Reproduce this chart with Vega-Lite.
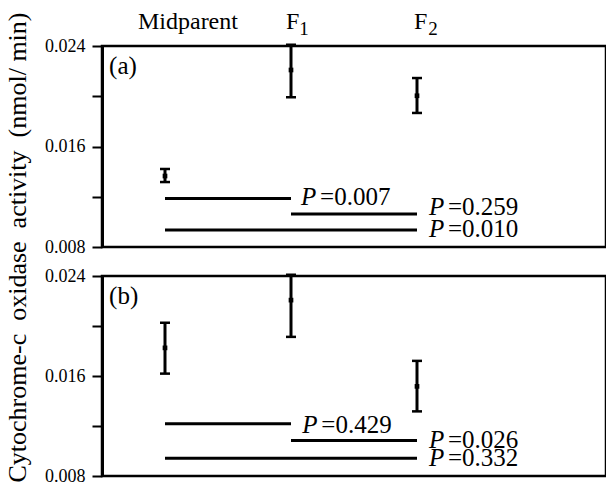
{
  "$schema": "https://vega.github.io/schema/vega-lite/v6.json",
  "padding": {"left": 5, "top": 8, "right": 0, "bottom": 0},
  "background": "white",
  "title": {"text": "Cytochrome-c\u2002oxidase\u2002activity\u2002(nmol/ min)", "orient": "left", "anchor": "middle", "font": "Liberation Serif", "fontSize": 26, "fontWeight": "normal", "color": "black", "offset": 12},
  "config": {
    "view": {"stroke": "black", "strokeWidth": 2.5},
    "font": "Liberation Serif",
    "text": {"font": "Liberation Serif"}
  },
  "datasets": {
    "bars": [
      {"panel": "a", "x": 0.5, "mean": 0.01365, "lo": 0.01317, "hi": 0.01421},
      {"panel": "a", "x": 1.5, "mean": 0.02209, "lo": 0.01992, "hi": 0.0241},
      {"panel": "a", "x": 2.5, "mean": 0.02004, "lo": 0.01867, "hi": 0.02145},
      {"panel": "b", "x": 0.5, "mean": 0.01825, "lo": 0.01619, "hi": 0.02026},
      {"panel": "b", "x": 1.5, "mean": 0.02207, "lo": 0.01913, "hi": 0.0241},
      {"panel": "b", "x": 2.5, "mean": 0.01517, "lo": 0.01317, "hi": 0.01721}
    ],
    "lines": [
      {"panel": "a", "x": 0.5, "x2": 1.5, "y": 0.01187},
      {"panel": "a", "x": 1.5, "x2": 2.5, "y": 0.01062},
      {"panel": "a", "x": 0.5, "x2": 2.5, "y": 0.00935},
      {"panel": "b", "x": 0.5, "x2": 1.5, "y": 0.01218},
      {"panel": "b", "x": 1.5, "x2": 2.5, "y": 0.01084},
      {"panel": "b", "x": 0.5, "x2": 2.5, "y": 0.00942}
    ],
    "labels": [
      {"panel": "a", "x": 1.58, "y": 0.01134, "val": "=0.007"},
      {"panel": "a", "x": 2.595, "y": 0.01054, "val": "=0.259"},
      {"panel": "a", "x": 2.595, "y": 0.00879, "val": "=0.010"},
      {"panel": "b", "x": 1.59, "y": 0.01146, "val": "=0.429"},
      {"panel": "b", "x": 2.595, "y": 0.01025, "val": "=0.026"},
      {"panel": "b", "x": 2.595, "y": 0.00881, "val": "=0.332"}
    ],
    "headers": [
      {"x": 1.079, "y": 0.02535, "t": "Midparent", "al": "right"},
      {"x": 1.46, "y": 0.02535, "t": "F", "al": "left"},
      {"x": 2.476, "y": 0.02535, "t": "F", "al": "left"}
    ],
    "subs": [
      {"x": 1.565, "y": 0.02488, "t": "1"},
      {"x": 2.59, "y": 0.02488, "t": "2"}
    ],
    "tags": [
      {"panel": "a", "x": 0.056, "y": 0.0218, "t": "(a)"},
      {"panel": "b", "x": 0.056, "y": 0.0218, "t": "(b)"}
    ]
  },
  "spacing": 29,
  "bounds": "flush",
  "vconcat": [
    {
      "width": 504, "height": 201,
      "layer": [
        {"data": {"name": "headers"}, "transform": [{"filter": "datum.al == 'left'"}], "mark": {"type": "text", "align": "left", "baseline": "alphabetic", "fontSize": 24, "font": "Liberation Serif", "color": "black"},
         "encoding": {"x": {"field": "x", "type": "quantitative", "scale": {"domain": [0, 4]}, "axis": null},
                      "y": {"field": "y", "type": "quantitative", "scale": {"domain": [0.008, 0.024], "zero": false, "nice": false}, "title": null, "axis": {"values": [0.008, 0.012, 0.016, 0.02, 0.024], "labelExpr": "abs(datum.value-0.012)<1e-6 || abs(datum.value-0.02)<1e-6 ? '' : format(datum.value, '.3f')", "grid": false, "tickSize": 10, "tickWidth": 2, "tickColor": "black", "domainColor": "black", "domainWidth": 3, "labelFont": "Liberation Serif", "labelFontSize": 18, "labelColor": "black", "labelPadding": 7}},
                      "text": {"field": "t"}}},
        {"data": {"name": "headers"}, "transform": [{"filter": "datum.al == 'right'"}], "mark": {"type": "text", "align": "right", "baseline": "alphabetic", "fontSize": 24, "font": "Liberation Serif", "color": "black"},
         "encoding": {"x": {"field": "x", "type": "quantitative", "scale": {"domain": [0, 4]}, "axis": null},
                      "y": {"field": "y", "type": "quantitative", "scale": {"domain": [0.008, 0.024], "zero": false, "nice": false}, "title": null},
                      "text": {"field": "t"}}},
        {"data": {"name": "subs"}, "mark": {"type": "text", "align": "left", "baseline": "alphabetic", "fontSize": 19, "font": "Liberation Serif", "color": "black"},
         "encoding": {"x": {"field": "x", "type": "quantitative", "scale": {"domain": [0, 4]}, "axis": null},
                      "y": {"field": "y", "type": "quantitative", "scale": {"domain": [0.008, 0.024], "zero": false, "nice": false}, "title": null},
                      "text": {"field": "t"}}},
        {"data": {"name": "tags"}, "transform": [{"filter": "datum.panel == 'a'"}], "mark": {"type": "text", "align": "left", "baseline": "alphabetic", "fontSize": 25, "font": "Liberation Serif", "color": "black"},
         "encoding": {"x": {"field": "x", "type": "quantitative", "scale": {"domain": [0, 4]}, "axis": null},
                      "y": {"field": "y", "type": "quantitative", "scale": {"domain": [0.008, 0.024], "zero": false, "nice": false}, "title": null},
                      "text": {"field": "t"}}},
        {"data": {"name": "bars"}, "transform": [{"filter": "datum.panel == 'a'"}], "mark": {"type": "rule", "strokeWidth": 3, "color": "black"},
         "encoding": {"x": {"field": "x", "type": "quantitative", "scale": {"domain": [0, 4]}, "axis": null},
                      "y": {"field": "lo", "type": "quantitative", "scale": {"domain": [0.008, 0.024], "zero": false, "nice": false}, "title": null},
                      "y2": {"field": "hi"}}},
        {"data": {"name": "bars"}, "transform": [{"filter": "datum.panel == 'a'"}], "mark": {"type": "tick", "orient": "horizontal", "size": 10, "thickness": 2.5, "color": "black", "opacity": 1},
         "encoding": {"x": {"field": "x", "type": "quantitative", "scale": {"domain": [0, 4]}, "axis": null},
                      "y": {"field": "lo", "type": "quantitative", "scale": {"domain": [0.008, 0.024], "zero": false, "nice": false}, "title": null}}},
        {"data": {"name": "bars"}, "transform": [{"filter": "datum.panel == 'a'"}], "mark": {"type": "tick", "orient": "horizontal", "size": 10, "thickness": 2.5, "color": "black", "opacity": 1},
         "encoding": {"x": {"field": "x", "type": "quantitative", "scale": {"domain": [0, 4]}, "axis": null},
                      "y": {"field": "hi", "type": "quantitative", "scale": {"domain": [0.008, 0.024], "zero": false, "nice": false}, "title": null}}},
        {"data": {"name": "bars"}, "transform": [{"filter": "datum.panel == 'a'"}], "mark": {"type": "point", "shape": "square", "filled": true, "size": 22, "color": "black", "opacity": 1},
         "encoding": {"x": {"field": "x", "type": "quantitative", "scale": {"domain": [0, 4]}, "axis": null},
                      "y": {"field": "mean", "type": "quantitative", "scale": {"domain": [0.008, 0.024], "zero": false, "nice": false}, "title": null}}},
        {"data": {"name": "lines"}, "transform": [{"filter": "datum.panel == 'a'"}], "mark": {"type": "rule", "strokeWidth": 3, "color": "black"},
         "encoding": {"x": {"field": "x", "type": "quantitative", "scale": {"domain": [0, 4]}, "axis": null},
                      "x2": {"field": "x2"},
                      "y": {"field": "y", "type": "quantitative", "scale": {"domain": [0.008, 0.024], "zero": false, "nice": false}, "title": null}}},
        {"data": {"name": "labels"}, "transform": [{"filter": "datum.panel == 'a'"}], "mark": {"type": "text", "align": "left", "baseline": "alphabetic", "fontSize": 25, "fontStyle": "italic", "font": "Liberation Serif", "color": "black"},
         "encoding": {"x": {"field": "x", "type": "quantitative", "scale": {"domain": [0, 4]}, "axis": null},
                      "y": {"field": "y", "type": "quantitative", "scale": {"domain": [0.008, 0.024], "zero": false, "nice": false}, "title": null},
                      "text": {"value": "P"}}},
        {"data": {"name": "labels"}, "transform": [{"filter": "datum.panel == 'a'"}], "mark": {"type": "text", "align": "left", "baseline": "alphabetic", "fontSize": 25, "dx": 19, "font": "Liberation Serif", "color": "black"},
         "encoding": {"x": {"field": "x", "type": "quantitative", "scale": {"domain": [0, 4]}, "axis": null},
                      "y": {"field": "y", "type": "quantitative", "scale": {"domain": [0.008, 0.024], "zero": false, "nice": false}, "title": null},
                      "text": {"field": "val"}}}
      ]
    },
    {
      "width": 504, "height": 200,
      "layer": [
        {"data": {"name": "tags"}, "transform": [{"filter": "datum.panel == 'b'"}], "mark": {"type": "text", "align": "left", "baseline": "alphabetic", "fontSize": 25, "font": "Liberation Serif", "color": "black"},
         "encoding": {"x": {"field": "x", "type": "quantitative", "scale": {"domain": [0, 4]}, "axis": null},
                      "y": {"field": "y", "type": "quantitative", "scale": {"domain": [0.008, 0.024], "zero": false, "nice": false}, "title": null, "axis": {"values": [0.008, 0.012, 0.016, 0.02, 0.024], "labelExpr": "abs(datum.value-0.012)<1e-6 || abs(datum.value-0.02)<1e-6 ? '' : format(datum.value, '.3f')", "grid": false, "tickSize": 10, "tickWidth": 2, "tickColor": "black", "domainColor": "black", "domainWidth": 3, "labelFont": "Liberation Serif", "labelFontSize": 18, "labelColor": "black", "labelPadding": 7}},
                      "text": {"field": "t"}}},
        {"data": {"name": "bars"}, "transform": [{"filter": "datum.panel == 'b'"}], "mark": {"type": "rule", "strokeWidth": 3, "color": "black"},
         "encoding": {"x": {"field": "x", "type": "quantitative", "scale": {"domain": [0, 4]}, "axis": null},
                      "y": {"field": "lo", "type": "quantitative", "scale": {"domain": [0.008, 0.024], "zero": false, "nice": false}, "title": null},
                      "y2": {"field": "hi"}}},
        {"data": {"name": "bars"}, "transform": [{"filter": "datum.panel == 'b'"}], "mark": {"type": "tick", "orient": "horizontal", "size": 10, "thickness": 2.5, "color": "black", "opacity": 1},
         "encoding": {"x": {"field": "x", "type": "quantitative", "scale": {"domain": [0, 4]}, "axis": null},
                      "y": {"field": "lo", "type": "quantitative", "scale": {"domain": [0.008, 0.024], "zero": false, "nice": false}, "title": null}}},
        {"data": {"name": "bars"}, "transform": [{"filter": "datum.panel == 'b'"}], "mark": {"type": "tick", "orient": "horizontal", "size": 10, "thickness": 2.5, "color": "black", "opacity": 1},
         "encoding": {"x": {"field": "x", "type": "quantitative", "scale": {"domain": [0, 4]}, "axis": null},
                      "y": {"field": "hi", "type": "quantitative", "scale": {"domain": [0.008, 0.024], "zero": false, "nice": false}, "title": null}}},
        {"data": {"name": "bars"}, "transform": [{"filter": "datum.panel == 'b'"}], "mark": {"type": "point", "shape": "square", "filled": true, "size": 22, "color": "black", "opacity": 1},
         "encoding": {"x": {"field": "x", "type": "quantitative", "scale": {"domain": [0, 4]}, "axis": null},
                      "y": {"field": "mean", "type": "quantitative", "scale": {"domain": [0.008, 0.024], "zero": false, "nice": false}, "title": null}}},
        {"data": {"name": "lines"}, "transform": [{"filter": "datum.panel == 'b'"}], "mark": {"type": "rule", "strokeWidth": 3, "color": "black"},
         "encoding": {"x": {"field": "x", "type": "quantitative", "scale": {"domain": [0, 4]}, "axis": null},
                      "x2": {"field": "x2"},
                      "y": {"field": "y", "type": "quantitative", "scale": {"domain": [0.008, 0.024], "zero": false, "nice": false}, "title": null}}},
        {"data": {"name": "labels"}, "transform": [{"filter": "datum.panel == 'b'"}], "mark": {"type": "text", "align": "left", "baseline": "alphabetic", "fontSize": 25, "fontStyle": "italic", "font": "Liberation Serif", "color": "black"},
         "encoding": {"x": {"field": "x", "type": "quantitative", "scale": {"domain": [0, 4]}, "axis": null},
                      "y": {"field": "y", "type": "quantitative", "scale": {"domain": [0.008, 0.024], "zero": false, "nice": false}, "title": null},
                      "text": {"value": "P"}}},
        {"data": {"name": "labels"}, "transform": [{"filter": "datum.panel == 'b'"}], "mark": {"type": "text", "align": "left", "baseline": "alphabetic", "fontSize": 25, "dx": 19, "font": "Liberation Serif", "color": "black"},
         "encoding": {"x": {"field": "x", "type": "quantitative", "scale": {"domain": [0, 4]}, "axis": null},
                      "y": {"field": "y", "type": "quantitative", "scale": {"domain": [0.008, 0.024], "zero": false, "nice": false}, "title": null},
                      "text": {"field": "val"}}}
      ]
    }
  ]
}
